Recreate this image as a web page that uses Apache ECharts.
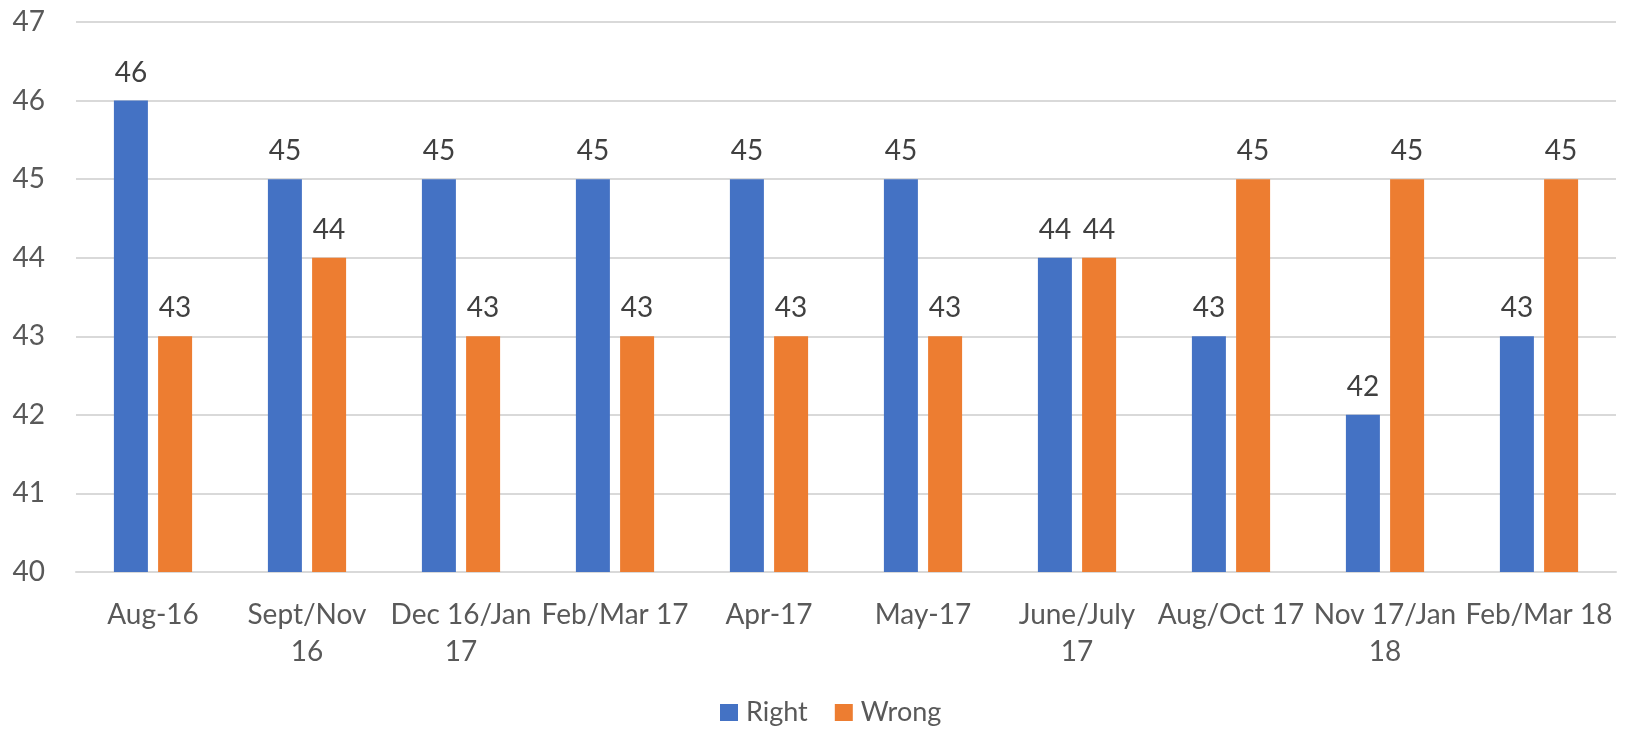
<!DOCTYPE html>
<html>
<head>
<meta charset="utf-8">
<script src="https://cdn.jsdelivr.net/npm/echarts@6/dist/echarts.min.js"></script>
<style>
html,body{margin:0;padding:0;background:#fff;}
#chart{width:1636px;height:730px;}
</style>
</head>
<body>
<div id="chart"></div>
<script>
var categories=['Aug-16','Sept/Nov\n16','Dec 16/Jan\n17','Feb/Mar 17','Apr-17','May-17','June/July\n17','Aug/Oct 17','Nov 17/Jan\n18','Feb/Mar 18'];
var right=[46,45,45,45,45,45,44,43,42,43];
var wrong=[43,44,43,43,43,43,44,45,45,45];
var yTicks=[40,47];

var font='Lato';
var mychart=echarts.init(document.getElementById('chart'));
mychart.setOption({
    animation:false,
    textStyle:{fontFamily:font},
    grid:{left:76,right:20,top:22,bottom:158,containLabel:false},
    legend:{
        top:694,
        left:715,
        itemWidth:18,
        itemHeight:17,
        itemGap:27,
        icon:'rect',
        textStyle:{fontFamily:font,fontSize:27,color:'#595959',padding:[0,0,0,3]},
        data:['Right','Wrong']
    },
    xAxis:{
        type:'category',
        data:categories,
        axisTick:{show:false},
        axisLine:{lineStyle:{color:'#d9d9d9',width:2}},
        axisLabel:{
            interval:0,
            margin:24,
            fontFamily:font,
            fontSize:28,
            lineHeight:37,
            color:'#595959'
        }
    },
    yAxis:{
        type:'value',
        min:yTicks[0],
        max:yTicks[1],
        interval:1,
        axisLabel:{fontFamily:font,fontSize:28,color:'#595959',margin:31},
        splitLine:{lineStyle:{color:'#d9d9d9',width:2}},
        axisLine:{show:false},
        axisTick:{show:false}
    },
    series:[
        {
            name:'Right',
            type:'bar',
            data:right,
            barWidth:34,
            barGap:'30%',
            itemStyle:{color:'#4472C4'},
            label:{show:true,position:'top',distance:14,fontFamily:font,fontSize:28,color:'#404040'}
        },
        {
            name:'Wrong',
            type:'bar',
            data:wrong,
            barWidth:34,
            barGap:'30%',
            itemStyle:{color:'#ED7D31'},
            label:{show:true,position:'top',distance:14,fontFamily:font,fontSize:28,color:'#404040'}
        }
    ]
});
</script>
</body>
</html>
